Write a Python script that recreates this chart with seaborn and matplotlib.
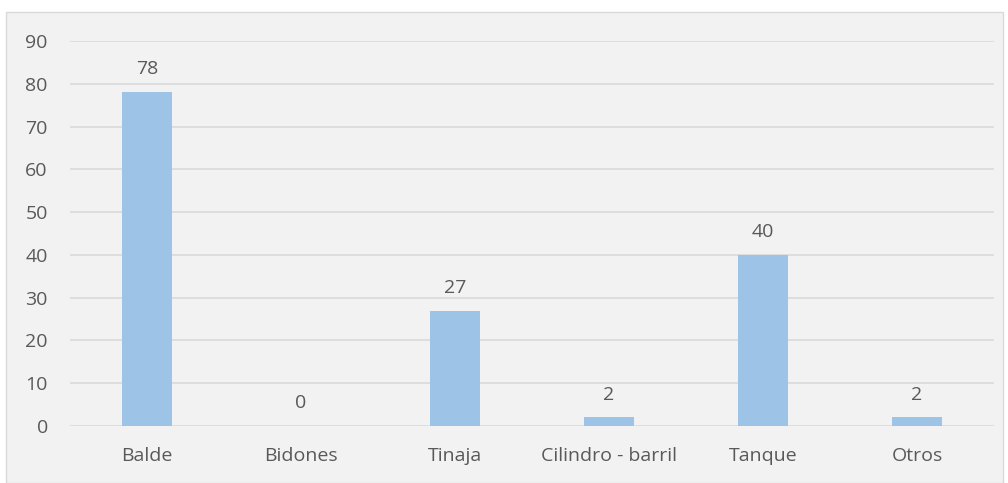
import matplotlib
matplotlib.use('Agg')
import matplotlib.pyplot as plt
import seaborn as sns
from matplotlib.patches import Rectangle

categories = ['Balde', 'Bidones', 'Tinaja', 'Cilindro - barril', 'Tanque', 'Otros']
values = [78, 0, 27, 2, 40, 2]
y_ticks = [0, 10, 20, 30, 40, 50, 60, 70, 80, 90]

BAR_COLOR = '#9DC3E6'
TEXT_COLOR = '#595959'
GRID_COLOR = '#D9D9D9'
BG_COLOR = '#F2F2F2'

sns.set_style('white')
plt.rcParams['font.family'] = ['Open Sans', 'DejaVu Sans']

fig = plt.figure(figsize=(10.08, 4.83), dpi=100)
fig.patch.set_facecolor('white')
# chart area frame (Excel style)
fig.patches.append(Rectangle((6 / 1008, 0), 997 / 1008, 471 / 483,
                             transform=fig.transFigure, facecolor=BG_COLOR,
                             edgecolor='#D9D9D9', linewidth=1, zorder=-5))

ax = fig.add_axes([70 / 1008, 57 / 483, 924 / 1008, 385 / 483])
ax.set_zorder(2)
ax.patch.set_alpha(0)

sns.barplot(x=categories, y=values, color=BAR_COLOR, width=0.32,
            saturation=1, linewidth=0, ax=ax, zorder=3)

ax.set_ylim(0, 90)
ax.set_xlim(-0.5, len(categories) - 0.5)
ax.set_yticks(y_ticks)
ax.yaxis.grid(True, color=GRID_COLOR, linewidth=1.2, zorder=0)
ax.set_axisbelow(True)
for s in ax.spines.values():
    s.set_visible(False)
ax.tick_params(axis='both', length=0, labelsize=14, colors=TEXT_COLOR)
ax.tick_params(axis='y', pad=16)
ax.tick_params(axis='x', pad=15)
ax.set_xlabel('')
ax.set_ylabel('')

for i, v in enumerate(values):
    ax.annotate(str(v), (i, v), xytext=(0, 10), textcoords='offset points',
                ha='center', va='bottom', fontsize=14, color=TEXT_COLOR)

plt.savefig('out.png', dpi=100)
